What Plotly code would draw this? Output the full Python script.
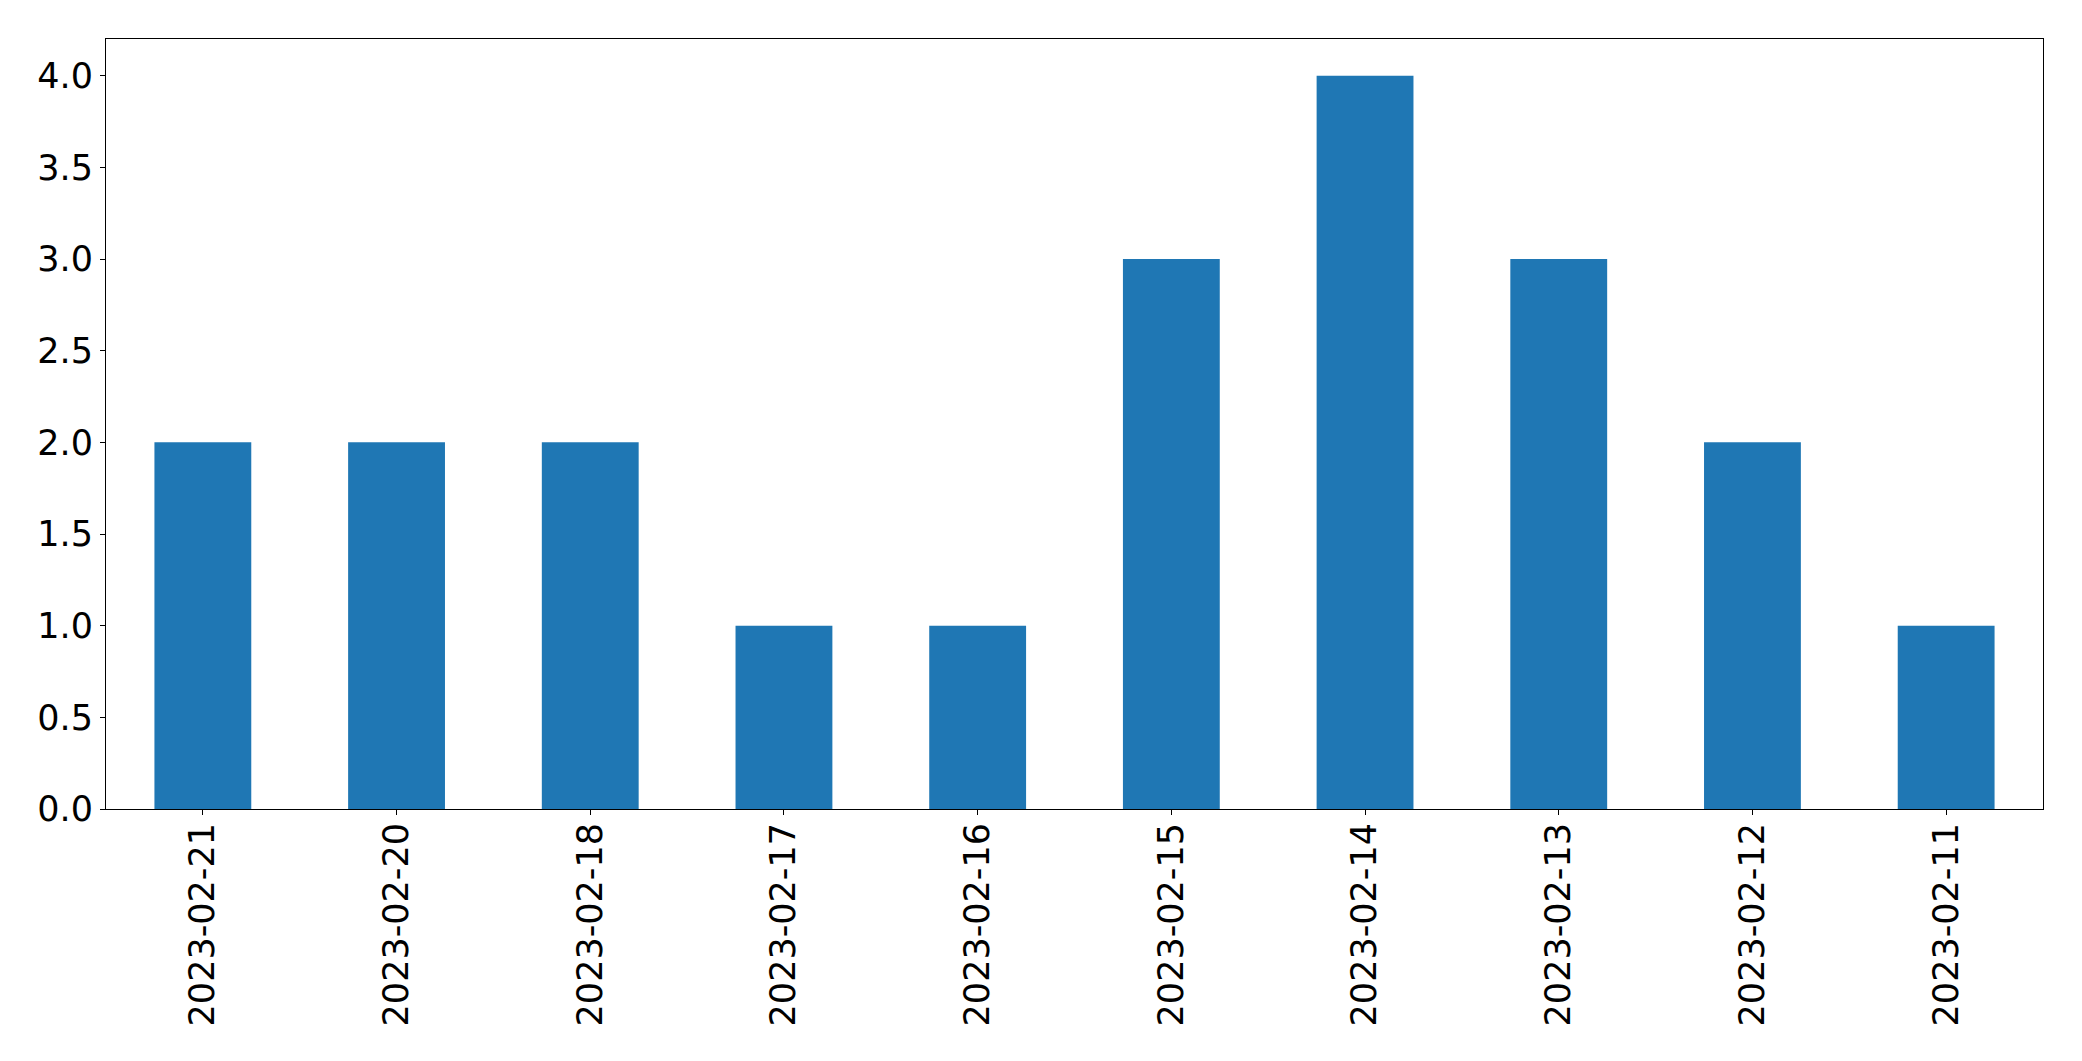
import plotly.graph_objects as go

dates = ["2023-02-21", "2023-02-20", "2023-02-18", "2023-02-17", "2023-02-16",
         "2023-02-15", "2023-02-14", "2023-02-13", "2023-02-12", "2023-02-11"]
counts = [2, 2, 2, 1, 1, 3, 4, 3, 2, 1]
y_ticks = [0.0, 0.5, 1.0, 1.5, 2.0, 2.5, 3.0, 3.5, 4.0]
y_tick_labels = [f"{v:.1f}" for v in y_ticks]

fig = go.Figure(go.Bar(
    x=list(range(len(dates))), y=counts, width=0.5,
    marker=dict(color="#1f77b4", line=dict(width=0)),
))

font = dict(family="DejaVu Sans", size=35, color="black")
fig.update_layout(
    width=2066, height=1045,
    margin=dict(l=97.5, r=30.7, t=31.3, b=243.7, pad=0, autoexpand=False),
    plot_bgcolor="white", paper_bgcolor="white",
    showlegend=False, font=font,
)
fig.update_xaxes(
    range=[-0.5, len(dates) - 0.5], automargin=False,
    tickmode="array", tickvals=list(range(len(dates))), ticktext=dates,
    tickangle=-90, ticks="outside", ticklen=5, tickwidth=1, tickcolor="black",
    ticklabelstandoff=-6,
    showline=True, linecolor="black", linewidth=1, mirror=True,
    showgrid=False, zeroline=False, tickfont=font,
)
fig.update_yaxes(
    range=[0, 4.2], automargin=False,
    tickmode="array", tickvals=y_ticks, ticktext=y_tick_labels,
    ticks="outside", ticklen=5, tickwidth=1, tickcolor="black",
    showline=True, linecolor="black", linewidth=1, mirror=True,
    showgrid=False, zeroline=False, tickfont=font,
)
fig.write_html("out.html")
